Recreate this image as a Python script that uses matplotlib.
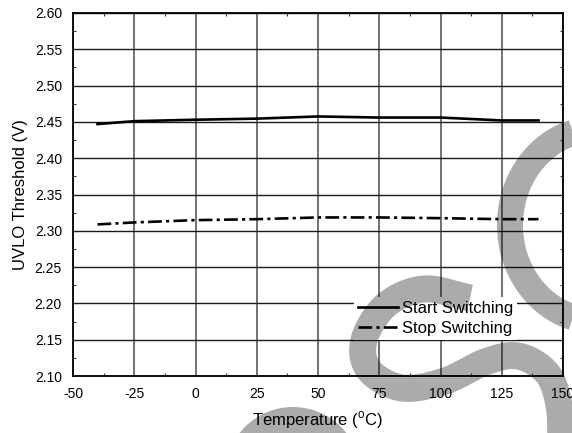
import numpy as np
import matplotlib
matplotlib.use("Agg")
import matplotlib.pyplot as plt
from matplotlib.ticker import MultipleLocator, FormatStrFormatter
from matplotlib.patches import Circle

plt.rcParams['font.family'] = ['Liberation Sans', 'DejaVu Sans']
plt.rcParams['mathtext.fontset'] = 'custom'
plt.rcParams['mathtext.rm'] = 'Liberation Sans'
plt.rcParams['axes.unicode_minus'] = False

# ---- data ----
temperature = [-40, -25, 0, 25, 50, 75, 100, 125, 140]
start_switching = [2.447, 2.451, 2.453, 2.4545, 2.4575, 2.456, 2.456, 2.452, 2.452]
stop_switching = [2.3088, 2.3115, 2.3147, 2.316, 2.3184, 2.3184, 2.3174, 2.316, 2.316]
x_ticks = [-50, -25, 0, 25, 50, 75, 100, 125, 150]
y_ticks = [2.10, 2.15, 2.20, 2.25, 2.30, 2.35, 2.40, 2.45, 2.50, 2.55, 2.60]

W, H = 572, 433
fig = plt.figure(figsize=(W / 100, H / 100), dpi=100)
ax = fig.add_axes([73 / W, (H - 376) / H, (563 - 73) / W, (376 - 13) / H])

ax.set_xlim(-50, 150)
ax.set_ylim(2.10, 2.60)
ax.set_xticks(x_ticks)
ax.set_yticks(y_ticks)
ax.yaxis.set_major_formatter(FormatStrFormatter('%.2f'))
ax.xaxis.set_minor_locator(MultipleLocator(12.5))
ax.yaxis.set_minor_locator(MultipleLocator(0.025))
ax.tick_params(which='major', length=0, pad=8, labelsize=10)
ax.tick_params(which='minor', direction='in', length=2.5, width=0.8,
               top=True, right=True, color='#333333')

ax.xaxis.grid(True, color='#5a5a5a', lw=1.2)
ax.yaxis.grid(True, color='#1a1a1a', lw=1.0)
ax.set_axisbelow(True)
for s in ax.spines.values():
    s.set_linewidth(1.3)
    s.set_color('black')

ax.plot(temperature, start_switching, color='black', lw=1.9, label='Start Switching')
ax.plot(temperature, stop_switching, color='black', lw=1.9,
        linestyle=(0, (5.2, 1.6, 1.2, 1.6)), label='Stop Switching')

ax.set_xlabel('Temperature ($^{\\rm o}$C)', fontsize=12, labelpad=6)
ax.set_ylabel('UVLO Threshold (V)', fontsize=12, labelpad=5)

leg = ax.legend(loc='lower left', bbox_to_anchor=(354 / W, (H - 340) / H),
                bbox_transform=fig.transFigure, borderaxespad=0,
                frameon=True, fancybox=False, framealpha=1, edgecolor='none',
                facecolor='white', fontsize=12, handlelength=2.4,
                handletextpad=0.2, labelspacing=0.3, borderpad=0.25)

# ---- watermark overlay (decoration) ----
ov = fig.add_axes([0, 0, 1, 1], zorder=10)
ov.set_xlim(0, W)
ov.set_ylim(H, 0)
ov.axis('off')
ov.patch.set_alpha(0)
px = 72 / 100  # points per pixel
wm = dict(color='black', alpha=0.33, solid_capstyle='butt', solid_joinstyle='round')

# right elliptical arc
t = np.linspace(-np.pi / 2, np.pi / 2, 200)
ov.plot(597 - 87 * np.cos(t), 225 + 96 * np.sin(t), lw=26 * px, **wm)


def catmull(pts, n=30):
    pts = np.asarray(pts, float)
    P = np.vstack([2 * pts[0] - pts[1], pts, 2 * pts[-1] - pts[-2]])
    out = []
    for i in range(1, len(P) - 2):
        p0, p1, p2, p3 = P[i - 1], P[i], P[i + 1], P[i + 2]
        for s in np.linspace(0, 1, n, endpoint=False):
            out.append(0.5 * ((2 * p1) + (-p0 + p2) * s +
                              (2 * p0 - 5 * p1 + 4 * p2 - p3) * s ** 2 +
                              (-p0 + 3 * p1 - 3 * p2 + p3) * s ** 3))
    out.append(P[-2])
    return np.array(out)


s_pts = [(470, 298), (424, 289), (386, 305), (364, 340), (369, 370), (402, 388),
         (445, 381), (485, 362), (518, 356), (547, 373), (559, 405), (561, 445)]
c = catmull(s_pts)
ov.plot(c[:, 0], c[:, 1], lw=27 * px, **wm)

# bottom dome
ov.add_patch(Circle((293, 475), 68, facecolor='black', edgecolor='none', alpha=0.33))

fig.savefig('out.png', dpi=100)
